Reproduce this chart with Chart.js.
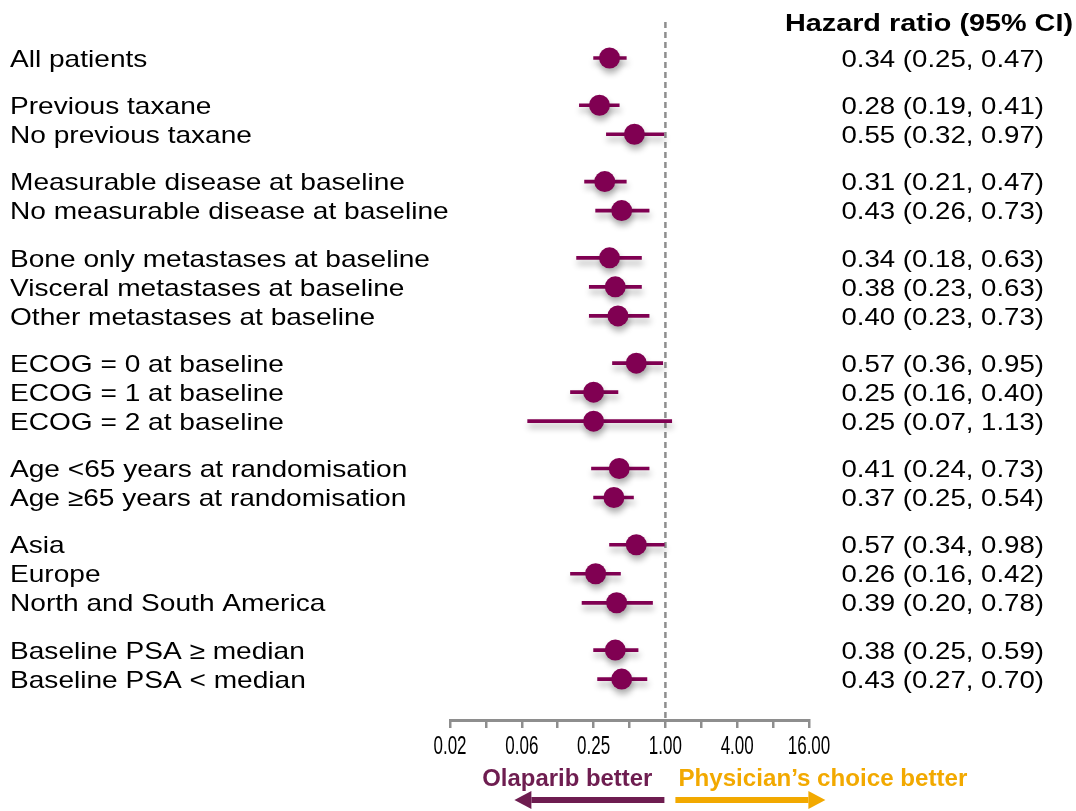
<!DOCTYPE html>
<html>
<head>
<meta charset="utf-8">
<title>Hazard ratio forest plot</title>
<script src="https://cdn.jsdelivr.net/npm/chart.js@4.4.1/dist/chart.umd.min.js"></script>
<style>
  html, body { margin: 0; padding: 0; background: #ffffff; }
  #wrap { width: 1076px; height: 811px; }
  canvas { display: block; }
</style>
</head>
<body>
<div id="wrap"><canvas id="forest" width="1076" height="811"></canvas></div>
<script>
// Subgroups, top to bottom
const categories = [
  'All patients',
  'Previous taxane',
  'No previous taxane',
  'Measurable disease at baseline',
  'No measurable disease at baseline',
  'Bone only metastases at baseline',
  'Visceral metastases at baseline',
  'Other metastases at baseline',
  'ECOG = 0 at baseline',
  'ECOG = 1 at baseline',
  'ECOG = 2 at baseline',
  'Age <65 years at randomisation',
  'Age \u226565 years at randomisation',
  'Asia',
  'Europe',
  'North and South America',
  'Baseline PSA \u2265 median',
  'Baseline PSA < median'
];

// Hazard ratio and 95% confidence interval
const hazardRatio = [0.34, 0.28, 0.55, 0.31, 0.43, 0.34, 0.38, 0.40, 0.57, 0.25, 0.25, 0.41, 0.37, 0.57, 0.26, 0.39, 0.38, 0.43];
const ciLower     = [0.25, 0.19, 0.32, 0.21, 0.26, 0.18, 0.23, 0.23, 0.36, 0.16, 0.07, 0.24, 0.25, 0.34, 0.16, 0.20, 0.25, 0.27];
const ciUpper     = [0.47, 0.41, 0.97, 0.47, 0.73, 0.63, 0.63, 0.73, 0.95, 0.40, 1.13, 0.73, 0.54, 0.98, 0.42, 0.78, 0.59, 0.70];

// Number of rows in each subgroup block
const groupSizes = [1, 2, 2, 3, 3, 2, 3, 2];

// Log2 axis ticks and their labels
const tickValues = [0.015625, 0.03125, 0.0625, 0.125, 0.25, 0.5, 1, 2, 4, 8, 16];
const tickLabels = ['0.02', '', '0.06', '', '0.25', '', '1.00', '', '4.00', '', '16.00'];

const headerText = 'Hazard ratio (95% CI)';
const leftArrowText = 'Olaparib better';
const rightArrowText = 'Physician\u2019s choice better';

// Row slot on the y scale: one unit per row plus extra space between blocks
const GROUP_GAP = 0.63;
const rowSlot = [];
groupSizes.forEach((n, g) => {
  for (let k = 0; k < n; k++) rowSlot.push(rowSlot.length + g * GROUP_GAP);
});

const MAROON = '#800052';
const GREY = '#8e8e8e';
const FONT = '"Liberation Sans", Arial, Helvetica, sans-serif';

const fmt = v => v.toFixed(2);

function scaledText(ctx, text, x, y, sx, align) {
  ctx.save();
  ctx.translate(x, y);
  ctx.scale(sx, 1);
  ctx.textAlign = align;
  ctx.textBaseline = 'alphabetic';
  ctx.fillText(text, 0, 0);
  ctx.restore();
}

const forestDecor = {
  id: 'forestDecor',
  beforeDatasetsDraw(chart) {
    const { ctx, chartArea, scales } = chart;
    const x1 = scales.x.getPixelForValue(1);
    // line of no effect
    ctx.save();
    ctx.strokeStyle = GREY;
    ctx.lineWidth = 2.5;
    ctx.setLineDash([6, 4]);
    ctx.beginPath();
    ctx.moveTo(x1, chartArea.top);
    ctx.lineTo(x1, chartArea.bottom);
    ctx.stroke();
    ctx.restore();
    // soft drop shadow under the markers
    ctx.save();
    ctx.shadowColor = 'rgba(0,0,0,0.3)';
    ctx.shadowBlur = 6;
    ctx.shadowOffsetX = 1;
    ctx.shadowOffsetY = 5;
  },
  afterDatasetsDraw(chart) {
    chart.ctx.restore();
  },
  afterDraw(chart) {
    const { ctx, scales } = chart;
    const xs = scales.x, ys = scales.y;

    // subgroup names and HR (95% CI) column
    ctx.fillStyle = '#000000';
    ctx.font = '24px ' + FONT;
    categories.forEach((name, i) => {
      const y = ys.getPixelForValue(rowSlot[i]) + 8.7;
      scaledText(ctx, name, 10, y, 1.17, 'left');
      const txt = fmt(hazardRatio[i]) + ' (' + fmt(ciLower[i]) + ', ' + fmt(ciUpper[i]) + ')';
      scaledText(ctx, txt, 1044, y, 1.15, 'right');
    });

    // column header
    ctx.font = 'bold 24px ' + FONT;
    scaledText(ctx, headerText, 1073, 31, 1.2, 'right');

    // axis tick labels
    ctx.font = '25px ' + FONT;
    tickValues.forEach((v, i) => {
      if (!tickLabels[i]) return;
      scaledText(ctx, tickLabels[i], xs.getPixelForValue(v), 754, 0.68, 'center');
    });

    // direction arrows
    const x1 = xs.getPixelForValue(1);
    const ay = 800;
    ctx.font = 'bold 23px ' + FONT;
    ctx.fillStyle = '#6e1d50';
    scaledText(ctx, leftArrowText, x1 - 13, 786, 1.04, 'right');
    ctx.fillStyle = '#f2a900';
    scaledText(ctx, rightArrowText, x1 + 13, 786, 1.05, 'left');

    const arrow = (xStart, xTip, color) => {
      const dir = Math.sign(xTip - xStart);
      const head = 17;
      ctx.save();
      ctx.fillStyle = color;
      ctx.fillRect(Math.min(xStart, xTip - dir * head), ay - 3, Math.abs(xTip - dir * head - xStart), 6);
      ctx.beginPath();
      ctx.moveTo(xTip, ay);
      ctx.lineTo(xTip - dir * head, ay - 9);
      ctx.lineTo(xTip - dir * head, ay + 9);
      ctx.closePath();
      ctx.fill();
      ctx.restore();
    };
    arrow(x1 - 1, x1 - 151, '#6e1d50');
    arrow(x1 + 10, x1 + 160, '#f2a900');
  }
};

new Chart(document.getElementById('forest'), {
  type: 'scatter',
  data: {
    datasets: [
      {
        type: 'scatter',
        label: 'Hazard ratio',
        data: hazardRatio.map((v, i) => ({ x: v, y: rowSlot[i] })),
        pointRadius: 10.5,
        pointHoverRadius: 10.5,
        pointBackgroundColor: MAROON,
        pointBorderWidth: 0,
        showLine: false,
        order: 0
      },
      {
        type: 'bar',
        label: '95% CI',
        indexAxis: 'y',
        data: ciLower.map((lo, i) => ({ x: [lo, ciUpper[i]], y: rowSlot[i] })),
        backgroundColor: MAROON,
        borderWidth: 0,
        barThickness: 3,
        order: 1
      }
    ]
  },
  options: {
    responsive: false,
    animation: false,
    events: [],
    layout: { padding: { left: 450, right: 267, top: 22, bottom: 83 } },
    plugins: { legend: { display: false }, tooltip: { enabled: false } },
    scales: {
      x: {
        type: 'logarithmic',
        min: tickValues[0],
        max: tickValues[tickValues.length - 1],
        offset: false,
        afterBuildTicks: scale => { scale.ticks = tickValues.map(v => ({ value: v })); },
        border: { display: true, color: GREY, width: 3 },
        grid: { display: true, offset: false, drawOnChartArea: false, drawTicks: true, tickLength: 8, color: GREY, lineWidth: 2.5 },
        ticks: { display: false }
      },
      y: {
        type: 'linear',
        reverse: true,
        offset: false,
        grace: 0,
        min: -1.24,
        max: 22.82,
        grid: { offset: false },
        display: false
      }
    }
  },
  plugins: [forestDecor]
});
</script>
</body>
</html>
